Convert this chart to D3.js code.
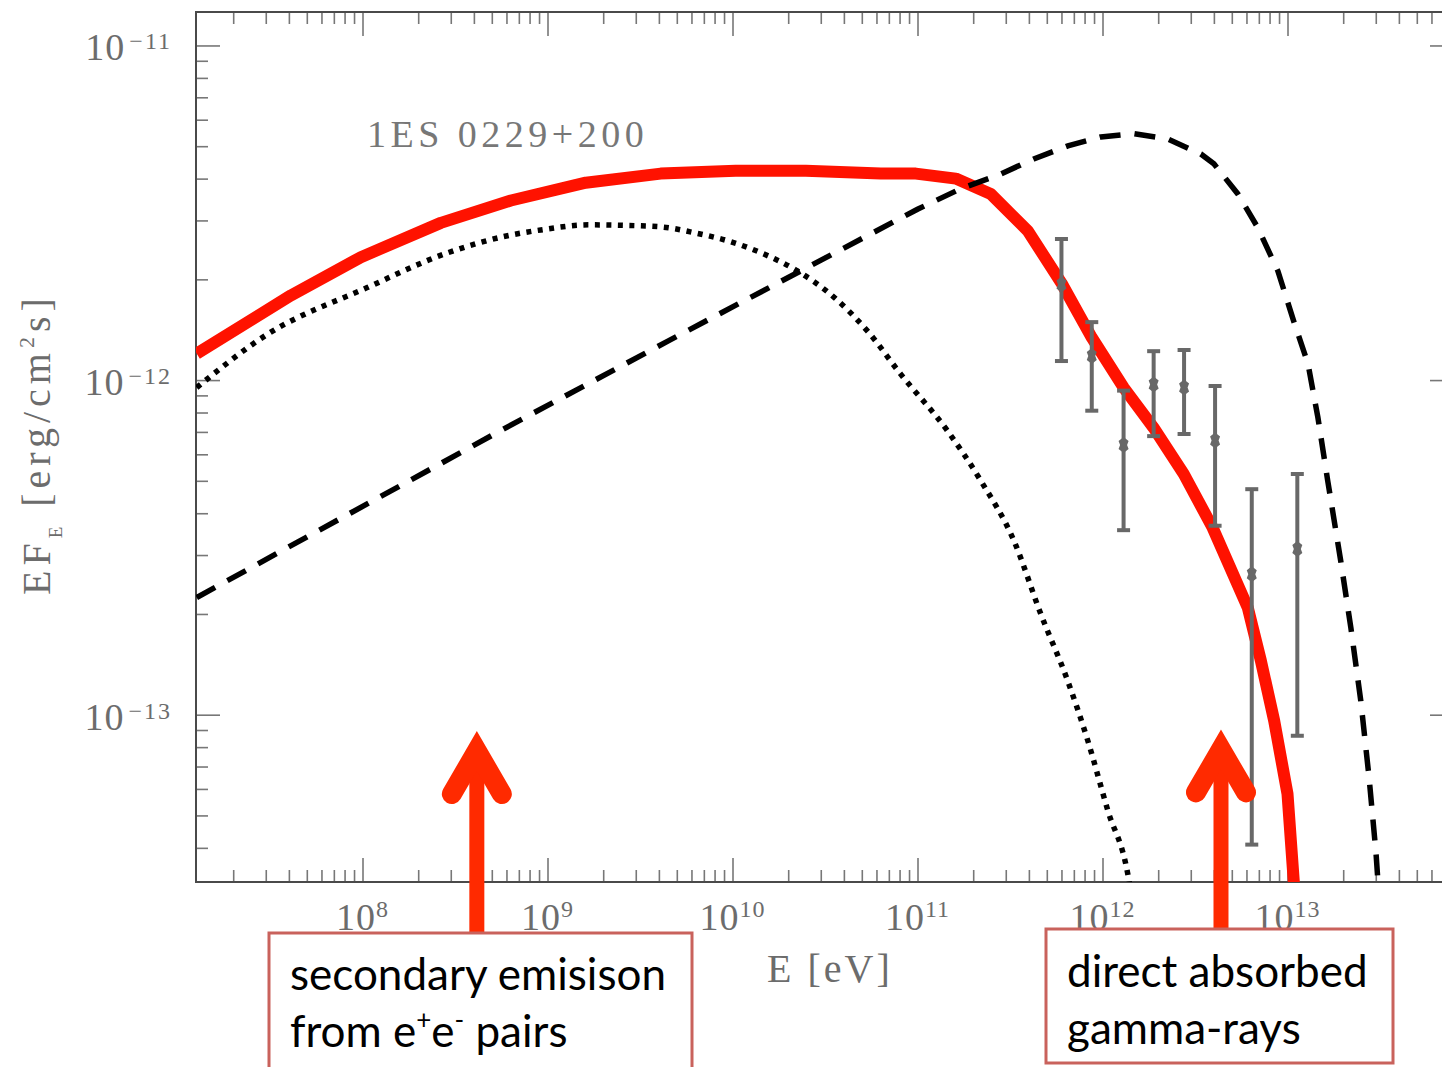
<!DOCTYPE html>
<html>
<head>
<meta charset="utf-8">
<script src="https://cdn.jsdelivr.net/npm/d3@7"></script>
<style>
body { margin: 0; background: #fff; }
svg { display: block; }
.tick line { stroke: #777; stroke-width: 1.6; }
</style>
</head>
<body>
<svg id="chart" width="1442" height="1067"></svg>
<script>
// total model (red), E in eV, EF_E in erg/cm2/s
var totalE = [1.27e7, 4.1e7, 9.8e7, 2.65e8, 6.34e8, 1.61e9, 4.09e9, 1.04e10, 2.49e10, 6.33e10, 9.8e10, 1.61e11, 2.49e11, 3.95e11, 6.03e11, 8.75e11, 1.30e12, 1.89e12, 2.75e12, 3.94e12, 6.1e12, 7.18e12, 8.47e12, 1.0e13, 1.10e13];
var totalF = [1.20e-12, 1.79e-12, 2.33e-12, 2.95e-12, 3.44e-12, 3.89e-12, 4.14e-12, 4.22e-12, 4.22e-12, 4.14e-12, 4.14e-12, 4.0e-12, 3.6e-12, 2.79e-12, 1.94e-12, 1.34e-12, 9.5e-13, 7.2e-13, 5.24e-13, 3.62e-13, 2.09e-13, 1.45e-13, 9.6e-14, 5.8e-14, 2.78e-14];

// cascade emission (dotted)
var cascadeE = [1.27e7, 3.06e7, 1.06e8, 2.88e8, 6.08e8, 9.2e8, 1.67e9, 2.58e9, 4.09e9, 6.34e9, 9.8e9, 1.48e10, 2.24e10, 3.53e10, 5.37e10, 8.13e10, 1.45e11, 2.20e11, 3.32e11, 4.64e11, 6.49e11, 8.33e11, 1.07e12, 1.37e12, 1.42e12];
var cascadeF = [9.5e-13, 1.37e-12, 1.89e-12, 2.40e-12, 2.70e-12, 2.81e-12, 2.91e-12, 2.90e-12, 2.87e-12, 2.75e-12, 2.59e-12, 2.38e-12, 2.12e-12, 1.77e-12, 1.40e-12, 1.04e-12, 7.06e-13, 5.0e-13, 3.31e-13, 2.0e-13, 1.26e-13, 8.36e-14, 5.16e-14, 3.34e-14, 2.98e-14];

// intrinsic spectrum (dashed)
var intrinsicE = [1.27e7, 5.81e8, 4.5e9, 1.0e11, 1.71e11, 2.82e11, 4.25e11, 6.50e11, 9.8e11, 1.48e12, 2.25e12, 3.40e12, 4.0e12, 5.39e12, 6.92e12, 8.87e12, 1.08e13, 1.29e13, 1.46e13, 1.65e13, 1.94e13, 2.20e13, 2.49e13, 2.76e13, 3.01e13, 3.12e13];
var intrinsicF = [2.24e-13, 7.15e-13, 1.31e-12, 3.24e-12, 3.73e-12, 4.13e-12, 4.58e-12, 5.01e-12, 5.33e-12, 5.45e-12, 5.26e-12, 4.74e-12, 4.43e-12, 3.60e-12, 2.85e-12, 2.12e-12, 1.50e-12, 1.12e-12, 7.73e-13, 5.0e-13, 2.88e-13, 1.82e-13, 1.10e-13, 6.49e-14, 3.85e-14, 2.88e-14];

// measured points with error bars
var dataE = [6.0e11, 8.75e11, 1.30e12, 1.89e12, 2.76e12, 4.06e12, 6.41e12, 1.13e13];
var dataF = [1.93e-12, 1.18e-12, 6.4e-13, 9.7e-13, 9.5e-13, 6.6e-13, 2.63e-13, 3.13e-13];
var dataHi = [2.64e-12, 1.49e-12, 9.3e-13, 1.22e-12, 1.23e-12, 9.6e-13, 4.72e-13, 5.24e-13];
var dataLo = [1.14e-12, 8.1e-13, 3.56e-13, 6.8e-13, 6.9e-13, 3.67e-13, 4.09e-14, 8.65e-14];

// annotation arrows point at these energies
var arrowE = [4.15e8, 4.37e12];
var arrowTipF = [9.0e-14, 9.1e-14];
var noteLines = [["secondary emisison", "from e|+|e|-| pairs"], ["direct absorbed", "gamma-rays"]];

var svg = d3.select("#chart");
var plotL = 196, plotR = 1454, plotT = 12, plotB = 882;

var x = d3.scaleLog().domain([Math.pow(10, 7.1), Math.pow(10, 13.9)]).range([plotL, plotR]);
var y = d3.scaleLog().domain([Math.pow(10, -13.5), Math.pow(10, -10.9)]).range([plotB, plotT]);

function isDecade(v) {
    var l = Math.log10(v);
    return Math.abs(l - Math.round(l)) < 1e-6;
}
function inside(scale) {
    var d = scale.domain();
    return scale.ticks().filter(function(v) { return v >= d[0] && v <= d[1]; });
}
var xAll = inside(x), yAll = inside(y);
var xMajor = xAll.filter(isDecade), xMinor = xAll.filter(function(v) { return !isDecade(v); });
var yMajor = yAll.filter(isDecade), yMinor = yAll.filter(function(v) { return !isDecade(v); });

svg.append("defs").append("clipPath").attr("id", "plotclip")
    .append("rect").attr("x", plotL).attr("y", plotT).attr("width", plotR - plotL).attr("height", plotB - plotT);

// ticks on all four sides, pointing into the box
function addAxis(axisFn, scale, values, size, tx, ty) {
    var g = svg.append("g").attr("transform", "translate(" + tx + "," + ty + ")")
        .call(axisFn(scale).tickValues(values).tickSize(size).tickFormat(""));
    g.select(".domain").remove();
}
addAxis(d3.axisBottom, x, xMinor, -12, 0, plotB);
addAxis(d3.axisBottom, x, xMajor, -24, 0, plotB);
addAxis(d3.axisTop, x, xMinor, -12, 0, plotT);
addAxis(d3.axisTop, x, xMajor, -24, 0, plotT);
addAxis(d3.axisLeft, y, yMinor, -12, plotL, 0);
addAxis(d3.axisLeft, y, yMajor, -24, plotL, 0);
addAxis(d3.axisRight, y, yMinor, -12, plotR, 0);
addAxis(d3.axisRight, y, yMajor, -24, plotR, 0);

svg.append("rect").attr("x", plotL).attr("y", plotT).attr("width", plotR - plotL).attr("height", plotB - plotT)
    .attr("fill", "none").attr("stroke", "#4a4a4a").attr("stroke-width", 2);

var serif = "'Liberation Serif', 'DejaVu Serif', serif";
var grey = "#6c6c6c";

// tick labels 10^n
xMajor.forEach(function(v) {
    var t = svg.append("text").attr("x", x(v)).attr("y", 930).attr("text-anchor", "middle")
        .attr("font-family", serif).attr("font-size", 38).attr("fill", grey).attr("letter-spacing", 1);
    t.append("tspan").text("10");
    t.append("tspan").attr("dy", -13).attr("font-size", 24).text(Math.round(Math.log10(v)));
});
yMajor.forEach(function(v) {
    var t = svg.append("text").attr("x", 172).attr("y", y(v) + 15).attr("text-anchor", "end")
        .attr("font-family", serif).attr("font-size", 38).attr("fill", grey).attr("letter-spacing", 1);
    t.append("tspan").text("10");
    t.append("tspan").attr("dx", 4).attr("dy", -11).attr("font-size", 24).attr("letter-spacing", 2)
        .text("\u2212" + Math.abs(Math.round(Math.log10(v))));
});

// axis titles
svg.append("text").attr("x", 767).attr("y", 982).attr("font-family", serif).attr("font-size", 40)
    .attr("fill", grey).attr("letter-spacing", 3).text("E [eV]");

var yt = svg.append("text").attr("transform", "translate(50,595) rotate(-90)")
    .attr("font-family", serif).attr("font-size", 40).attr("fill", grey).attr("letter-spacing", 5);
yt.append("tspan").text("EF");
yt.append("tspan").attr("dy", 12).attr("font-size", 19).text("E");
yt.append("tspan").attr("dy", -12).text(" [erg/cm");
yt.append("tspan").attr("dy", -16).attr("font-size", 22).text("2");
yt.append("tspan").attr("dy", 16).text("s]");

svg.append("text").attr("x", 367).attr("y", 147).attr("font-family", serif).attr("font-size", 38)
    .attr("fill", "#777").attr("letter-spacing", 4.5).text("1ES 0229+200");

// model curves
function series(E, F) { return E.map(function(e, i) { return [e, F[i]]; }); }
var line = d3.line().x(function(d) { return x(d[0]); }).y(function(d) { return y(d[1]); });
var smooth = d3.line().curve(d3.curveMonotoneX).x(function(d) { return x(d[0]); }).y(function(d) { return y(d[1]); });

var curves = svg.append("g").attr("clip-path", "url(#plotclip)");
curves.append("path").attr("d", line(series(totalE, totalF)))
    .attr("fill", "none").attr("stroke", "#ff1200").attr("stroke-width", 12).attr("stroke-linejoin", "round");
curves.append("path").attr("d", smooth(series(cascadeE, cascadeF)))
    .attr("fill", "none").attr("stroke", "#000").attr("stroke-width", 5.5).attr("stroke-dasharray", "5 6.5");
curves.append("path").attr("d", line(series(intrinsicE, intrinsicF)))
    .attr("fill", "none").attr("stroke", "#000").attr("stroke-width", 5.5).attr("stroke-dasharray", "21 14");

// data points
var pts = svg.append("g").attr("stroke", "#686868").attr("fill", "#686868");
dataE.forEach(function(e, i) {
    var cx = x(e);
    pts.append("line").attr("x1", cx).attr("x2", cx).attr("y1", y(dataHi[i])).attr("y2", y(dataLo[i])).attr("stroke-width", 4);
    [dataHi[i], dataLo[i]].forEach(function(v) {
        pts.append("line").attr("x1", cx - 6.5).attr("x2", cx + 6.5).attr("y1", y(v)).attr("y2", y(v)).attr("stroke-width", 4);
    });
    var cy = y(dataF[i]);
    pts.append("path").attr("stroke", "none")
        .attr("d", "M" + cx + "," + (cy - 8) + "l5,4l-1.5,4l1.5,4l-5,4l-5,-4l1.5,-4l-1.5,-4z");
});

// arrows and boxes
var arrowColor = "#ff2a00";
var boxes = [{x: 269, y: 933, w: 423, h: 136, tx: 290, b1: 990}, {x: 1046, y: 929, w: 347, h: 134, tx: 1067, b1: 987}];
arrowE.forEach(function(e, i) {
    var ax = x(e), tipY = y(arrowTipF[i]);
    svg.append("line").attr("x1", ax).attr("x2", ax).attr("y1", tipY + 30).attr("y2", boxes[i].y)
        .attr("stroke", arrowColor).attr("stroke-width", 15);
    var vy = tipY + 21;
    svg.append("path").attr("d", "M" + (ax - 25) + "," + (vy + 43) + "L" + ax + "," + vy + "L" + (ax + 25) + "," + (vy + 43))
        .attr("fill", "none").attr("stroke", arrowColor).attr("stroke-width", 20)
        .attr("stroke-linecap", "round").attr("stroke-linejoin", "miter");
});

boxes.forEach(function(b, i) {
    svg.append("rect").attr("x", b.x).attr("y", b.y).attr("width", b.w).attr("height", b.h)
        .attr("fill", "#fff").attr("stroke", "#c9625c").attr("stroke-width", 3);
    noteLines[i].forEach(function(s, k) {
        var t = svg.append("text").attr("x", b.tx).attr("y", b.b1 + k * 57)
            .attr("font-family", "Lato, 'Open Sans', sans-serif").attr("font-size", 44).attr("fill", "#000");
        // parts between | are superscripts
        s.split("|").forEach(function(part, j) {
            if (part === "") return;
            var sp = t.append("tspan").text(part);
            if (j % 2 === 1) sp.attr("font-size", 26).attr("dy", -18);
            else if (j > 0) sp.attr("dy", 18);
        });
    });
});
</script>
</body>
</html>
